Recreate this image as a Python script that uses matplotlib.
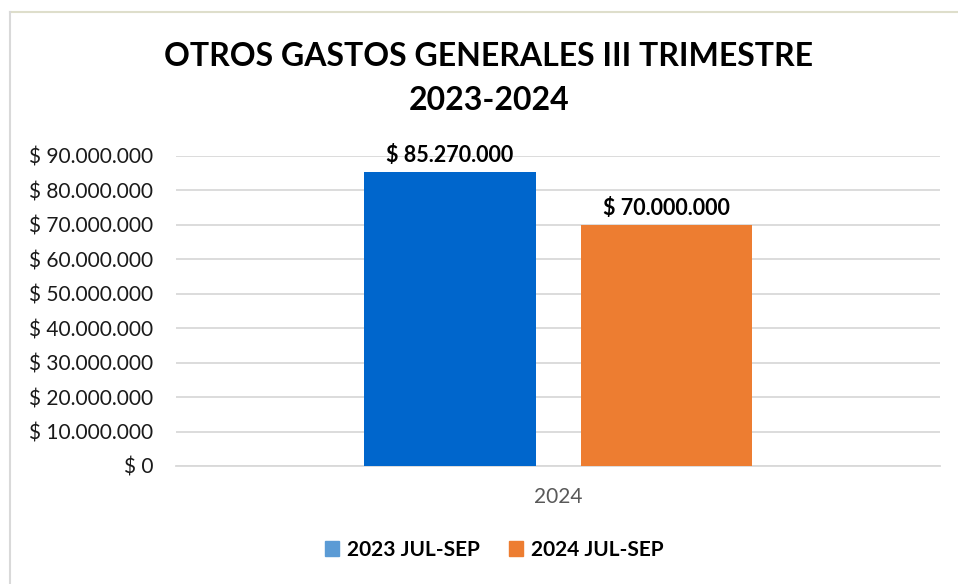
import matplotlib.pyplot as plt
import matplotlib as mpl
from matplotlib.lines import Line2D
from matplotlib.patches import Patch

# data
categories = ['2024']
series = ['2023 JUL-SEP', '2024 JUL-SEP']
values = [85270000, 70000000]
bar_colors = ['#0066CC', '#ED7D31']
legend_colors = ['#5B9BD5', '#ED7D31']
yticks = list(range(0, 90000001, 10000000))

plt.rcParams['font.family'] = ['Lato', 'DejaVu Sans']


def money(v):
    return '$ ' + f'{int(v):,}'.replace(',', '.')


W, H = 958, 584
fig = plt.figure(figsize=(W / 100, H / 100), dpi=100)
ax = fig.add_axes([176 / W, 1 - 466 / H, (940 - 176) / W, (466 - 156) / H])

offsets = [-0.1414, 0.142]
width = 0.225
for i, (name, v) in enumerate(zip(series, values)):
    ax.bar(offsets[i], v, width=width, color=bar_colors[i], zorder=3)
    ax.text(offsets[i], v + 1800000, money(v), ha='center', va='bottom',
            fontsize=15.5, fontweight='bold', color='black')

ax.set_xlim(-0.5, 0.5)
ax.set_ylim(0, 90000000)
ax.set_yticks(yticks)
ax.set_yticklabels([money(t) for t in yticks], fontsize=15, color='#1a1a1a')
ax.set_xticks([0])
ax.set_xticklabels(categories, fontsize=15, color='#595959')
ax.tick_params(axis='both', length=0)
ax.tick_params(axis='y', pad=16.5)
ax.tick_params(axis='x', pad=15)
ax.grid(axis='y', color='#D9D9D9', linewidth=1.3, zorder=0)
for s in ['top', 'right', 'left']:
    ax.spines[s].set_visible(False)
ax.spines['bottom'].set_color('#D9D9D9')
ax.spines['bottom'].set_linewidth(1.3)

fig.text(489 / W, 1 - 57 / H, 'OTROS GASTOS GENERALES III TRIMESTRE',
         ha='center', va='center', fontsize=23, fontweight='bold')
fig.text(489 / W, 1 - 101 / H, '2023-2024',
         ha='center', va='center', fontsize=23, fontweight='bold')

handles = [Patch(color=c, label=l) for c, l in zip(legend_colors, series)]
fig.legend(handles=handles, loc='center', bbox_to_anchor=(494 / W, 1 - 550 / H),
           ncol=2, frameon=False, prop={'size': 15, 'weight': 'bold'},
           handlelength=0.7, handleheight=0.7, handletextpad=0.35, columnspacing=1.4)

# chart-area border (top and left visible in reference)
fig.add_artist(Line2D([10 / W, 1], [1 - 12 / H, 1 - 12 / H], color='#DEDECB', linewidth=1.5))
fig.add_artist(Line2D([10 / W, 10 / W], [0, 1 - 12 / H], color='#D9D9D9', linewidth=1.5))

fig.savefig('out.png', dpi=100)
